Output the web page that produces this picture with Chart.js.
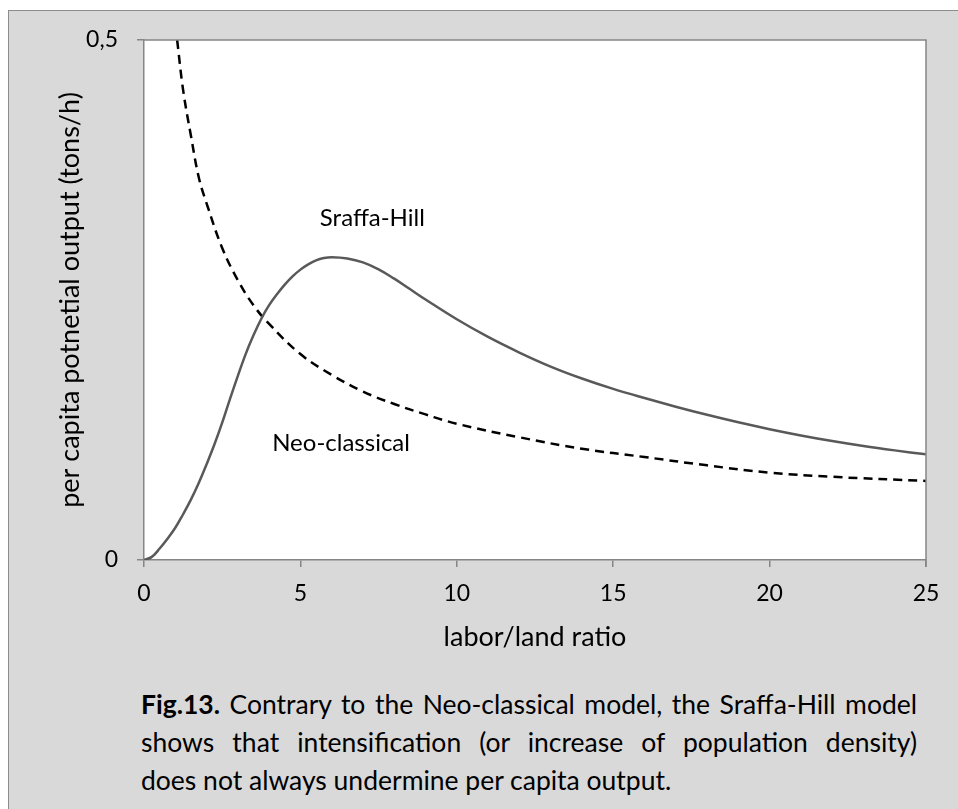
<!DOCTYPE html>
<html>
<head>
<meta charset="utf-8">
<script src="https://cdn.jsdelivr.net/npm/chart.js@4/dist/chart.umd.min.js"></script>
<style>
  html, body { margin: 0; padding: 0; background: #ffffff; }
  #frame {
    position: absolute; left: 8px; top: 10px; width: 1000px; height: 900px;
    background: #d9d9d9; border: 1px solid #8c8c8c; box-sizing: border-box;
  }
  #chart { position: absolute; left: 0; top: 0; }
  .caption {
    position: absolute; left: 141px; width: 776px;
    font-family: Lato, "Open Sans", sans-serif; font-size: 26.5px; line-height: 38px;
    color: #000; white-space: nowrap;
  }
  .caption.just { text-align: justify; text-align-last: justify; }
</style>
</head>
<body>
<div id="frame"></div>
<canvas id="chart" width="958" height="660"></canvas>
<div class="caption just" style="top:685px"><b>Fig.13.</b> Contrary to the Neo-classical model, the Sraffa-Hill model</div>
<div class="caption just" style="top:723px">shows that intensification (or increase of population density)</div>
<div class="caption" style="top:761px">does not always undermine per capita output.</div>
<script>
// labor/land ratio and per capita output, Neo-classical curve
var neoX = [1.06, 1.25, 1.5, 1.75, 2, 2.5, 3, 3.5, 4, 5, 6, 7, 8, 9, 10, 12, 14, 16, 18, 20, 22, 25];
var neoY = [0.5, 0.452, 0.408, 0.368, 0.343, 0.300, 0.269, 0.245, 0.227, 0.198, 0.178, 0.162, 0.150, 0.140, 0.131, 0.118, 0.107, 0.099, 0.091, 0.084, 0.080, 0.076];

// Sraffa-Hill curve
var sraffaX = [0, 0.25, 0.5, 0.75, 1, 1.25, 1.5, 1.75, 2, 2.25, 2.5, 2.75, 3, 3.25, 3.5, 3.75, 4, 4.25, 4.5, 4.75, 5, 5.25, 5.5, 5.75, 6, 6.5, 7, 7.5, 8, 8.5, 9, 10, 11, 12, 13, 14, 15, 16, 17, 18, 19, 20, 21, 22, 23, 24, 25];
var sraffaY = [0, 0.003, 0.011, 0.0205, 0.031, 0.044, 0.058, 0.074, 0.092, 0.111, 0.132, 0.155, 0.177, 0.198, 0.216, 0.232, 0.245, 0.2555, 0.2648, 0.2727, 0.2792, 0.2843, 0.2881, 0.2903, 0.2912, 0.2900, 0.2862, 0.2795, 0.2705, 0.2605, 0.2505, 0.2315, 0.2145, 0.1995, 0.186, 0.1745, 0.1645, 0.1557, 0.1474, 0.1396, 0.1324, 0.1258, 0.1198, 0.1144, 0.1096, 0.1054, 0.1016];

var xTicks = [0, 5, 10, 15, 20, 25];
var yTicks = [0, 0.5];
var yTickLabels = ['0', '0,5'];

var seriesNames = ['Sraffa-Hill', 'Neo-classical'];

function points(xs, ys) {
    return xs.map(function (x, i) { return { x: x, y: ys[i] }; });
}

var axisGrey = '#868686';
var fontFamily = 'Lato, "Open Sans", sans-serif';

// white plot area with a thin frame on top and right
var plotArea = {
    id: 'plotArea',
    beforeDraw: function (chart) {
        var a = chart.chartArea, ctx = chart.ctx;
        ctx.save();
        ctx.fillStyle = '#ffffff';
        ctx.fillRect(a.left, a.top, a.right - a.left, a.bottom - a.top);
        ctx.restore();
    },
    afterDraw: function (chart) {
        var a = chart.chartArea, ctx = chart.ctx;
        ctx.save();
        ctx.strokeStyle = axisGrey;
        ctx.lineWidth = 1.5;
        ctx.beginPath();
        ctx.moveTo(a.left, a.top);
        ctx.lineTo(a.right, a.top);
        ctx.lineTo(a.right, a.bottom + 7);
        ctx.stroke();
        ctx.restore();
    }
};

// curve names written next to each line
var curveLabels = {
    id: 'curveLabels',
    afterDatasetsDraw: function (chart, args, opts) {
        var ctx = chart.ctx, xs = chart.scales.x, ys = chart.scales.y;
        ctx.save();
        ctx.font = '24px ' + fontFamily;
        ctx.fillStyle = '#000';
        ctx.textAlign = 'center';
        ctx.textBaseline = 'middle';
        opts.items.forEach(function (it) {
            ctx.fillText(it.text, xs.getPixelForValue(it.x), ys.getPixelForValue(it.y));
        });
        ctx.restore();
    }
};

new Chart(document.getElementById('chart').getContext('2d'), {
    type: 'scatter',
    data: {
        datasets: [{
            label: seriesNames[0],
            data: points(sraffaX, sraffaY),
            showLine: true,
            borderColor: '#595959',
            borderWidth: 2.5,
            pointRadius: 0,
            tension: 0.4
        }, {
            label: seriesNames[1],
            data: points(neoX, neoY),
            showLine: true,
            borderColor: '#000000',
            borderWidth: 2.5,
            borderDash: [9, 6],
            pointRadius: 0,
            tension: 0.4
        }]
    },
    options: {
        responsive: false,
        animation: false,
        devicePixelRatio: 1,
        layout: { padding: { left: 0, right: 32, top: 40, bottom: 0 } },
        plugins: {
            legend: { display: false },
            tooltip: { enabled: false },
            curveLabels: {
                items: [
                    { text: seriesNames[0], x: 7.3, y: 0.329 },
                    { text: seriesNames[1], x: 6.3, y: 0.1125 }
                ]
            }
        },
        scales: {
            x: {
                type: 'linear',
                min: 0,
                max: 25,
                afterFit: function (scale) { scale.height = 100; },
                afterBuildTicks: function (scale) {
                    scale.ticks = xTicks.map(function (v) { return { value: v }; });
                },
                border: { display: true, color: axisGrey, width: 1.5 },
                grid: { display: true, drawOnChartArea: false, drawTicks: true, tickLength: 7, color: axisGrey, lineWidth: 1.5 },
                ticks: { padding: 13, color: '#000', font: { family: fontFamily, size: 23 }, maxRotation: 0 },
                title: {
                    display: true,
                    text: 'labor/land ratio',
                    color: '#000',
                    font: { family: fontFamily, size: 27 },
                    padding: { top: 0, bottom: 7 }
                }
            },
            y: {
                type: 'linear',
                min: 0,
                max: 0.5,
                afterFit: function (scale) { scale.width = 144; },
                afterBuildTicks: function (scale) {
                    scale.ticks = yTicks.map(function (v) { return { value: v }; });
                },
                border: { display: true, color: axisGrey, width: 1.5 },
                grid: { display: true, drawOnChartArea: false, drawTicks: true, tickLength: 7, color: axisGrey, lineWidth: 1.5 },
                ticks: {
                    padding: 19,
                    color: '#000',
                    font: { family: fontFamily, size: 23 },
                    callback: function (v) { return yTickLabels[yTicks.indexOf(v)]; }
                },
                title: {
                    display: true,
                    text: 'per capita potnetial output (tons/h)',
                    color: '#000',
                    font: { family: fontFamily, size: 27 },
                    padding: { top: 54, bottom: 0 }
                }
            }
        }
    },
    plugins: [plotArea, curveLabels]
});
</script>
</body>
</html>
